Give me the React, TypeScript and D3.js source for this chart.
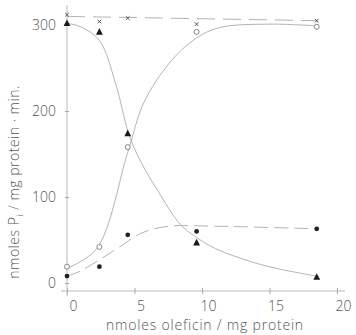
import React, { useEffect, useRef } from 'react';
import * as d3 from 'd3';

const W = 356;
const H = 335;

// measured points
const doses = [0, 2.4, 4.5, 9.6, 18.5];
const crossVals = [312, 304, 308, 301, 305];
const triVals = [302, 292, 174, 47, 7];
const openVals = [19, 42, 158, 292, 298];
const filledVals = [8, 19, 56, 60, 63];

// hand-drawn fitted curves
const triFitX = [0, 1, 2.4, 3.6, 4.6, 5.5, 6.7, 8.4, 9.5, 11, 13.8, 15.8, 18.5];
const triFitV = [302, 298, 282, 232, 172, 140, 108, 68, 54, 40, 24, 16, 8];
const openFitX = [0, 2.2, 4.5, 5.7, 7.6, 9.5, 11.3, 15, 18.5];
const openFitV = [17, 40, 152, 210, 256, 284, 297, 301, 299];
const filledFitX = [0, 1, 4, 5.5, 7.5, 11, 18.5];
const filledFitV = [8, 14, 43, 58, 66, 66, 63];
const crossFitX = [0, 18.5];
const crossFitV = [310, 305];

const xTicks = [0, 5, 10, 15, 20];
const yTicks = [0, 100, 200, 300];

const ink = '#555';
const lineColor = '#aaa';
const font = '"Open Sans", "DejaVu Sans", sans-serif';

export default function App() {
  const ref = useRef<SVGSVGElement>(null);

  useEffect(() => {
    const svg = d3.select(ref.current);
    svg.selectAll('*').remove();

    const x = d3.scaleLinear().domain([0, 20]).range([67, 337]);
    const y = d3.scaleLinear().domain([0, 300]).range([283, 25]);

    // axes
    const axis = svg.append('g');
    let xAxis = d3.axisBottom(x).tickValues(xTicks).tickSize(4).tickPadding(6);
    let gx = axis.append('g').attr('transform', `translate(0 291)`).call(xAxis);
    gx.select('.domain').attr('d', `M${x(0) - 6},0H${x(20) + 8}`).attr('stroke', '#bbb');
    gx.selectAll('.tick line').attr('stroke', '#aaa').attr('y1', -3).attr('y2', 3);
    gx.selectAll('text')
      .attr('font-size', 14).attr('font-family', font).attr('fill', ink)
      .attr('dx', 6).attr('font-weight', 300);

    let yAxis = d3.axisLeft(y).tickValues(yTicks).tickSize(3).tickPadding(8);
    let gy = axis.append('g').attr('transform', `translate(${x(0)} 0)`).call(yAxis);
    gy.select('.domain').attr('d', `M0,5V${296}`).attr('stroke', '#bbb');
    gy.selectAll('.tick line').attr('stroke', '#aaa').attr('x1', -2).attr('x2', 2);
    gy.selectAll('text')
      .attr('font-size', 14).attr('font-family', font).attr('fill', ink).attr('font-weight', 300);

    // titles
    svg.append('text')
      .attr('x', 205).attr('y', 330)
      .attr('text-anchor', 'middle')
      .attr('font-size', 14).attr('font-family', font).attr('fill', ink).attr('font-weight', 300)
      .attr('letter-spacing', 0.8)
      .text('nmoles oleficin / mg protein');

    let yt = svg.append('text')
      .attr('transform', 'translate(19 182) rotate(-90)')
      .attr('text-anchor', 'middle')
      .attr('font-size', 14).attr('font-family', font).attr('fill', ink).attr('font-weight', 300)
      .attr('letter-spacing', 0.5);
    yt.append('tspan').text('nmoles P');
    yt.append('tspan').attr('font-size', 9).attr('dy', 4).text('i');
    yt.append('tspan').attr('dy', -4).text(' / mg protein · min.');

    // fitted curves
    const line = d3.line<[number, number]>()
      .x(d => x(d[0]))
      .y(d => y(d[1]))
      .curve(d3.curveCatmullRom.alpha(0.5));
    const curves = [
      { xs: triFitX, vs: triFitV, dash: null },
      { xs: openFitX, vs: openFitV, dash: null },
      { xs: filledFitX, vs: filledFitV, dash: '14 6' },
      { xs: crossFitX, vs: crossFitV, dash: '18 8' },
    ];
    curves.forEach(c => {
      svg.append('path')
        .attr('d', line(c.xs.map((v, i) => [v, c.vs[i]] as [number, number])))
        .attr('fill', 'none')
        .attr('stroke', lineColor)
        .attr('stroke-width', 0.9)
        .attr('stroke-dasharray', c.dash);
    });

    // markers
    const pts = svg.append('g');
    pts.selectAll('.cross').data(doses).enter()
      .append('path')
      .attr('d', (d, i) => {
        let cx = x(d), cy = y(crossVals[i]);
        return `M${cx - 1.8},${cy - 1.8}L${cx + 1.8},${cy + 1.8}M${cx - 1.8},${cy + 1.8}L${cx + 1.8},${cy - 1.8}`;
      })
      .attr('stroke', '#555').attr('stroke-width', 1);

    pts.selectAll('.tri').data(doses).enter()
      .append('path')
      .attr('d', (d, i) => {
        let cx = x(d), cy = y(triVals[i]);
        return `M${cx},${cy - 3.8}L${cx + 3.4},${cy + 2.8}L${cx - 3.4},${cy + 2.8}Z`;
      })
      .attr('fill', '#1a1a1a');

    pts.selectAll('.open').data(doses).enter()
      .append('circle')
      .attr('cx', d => x(d))
      .attr('cy', (d, i) => y(openVals[i]))
      .attr('r', 2.5)
      .attr('fill', '#fff')
      .attr('stroke', '#777')
      .attr('stroke-width', 0.9);

    pts.selectAll('.filled').data(doses).enter()
      .append('circle')
      .attr('cx', d => x(d))
      .attr('cy', (d, i) => y(filledVals[i]))
      .attr('r', 2.4)
      .attr('fill', '#222');
  }, []);

  return (
    <div style={{ position: 'absolute', left: 0, top: 0, background: '#fff' }}>
      <svg ref={ref} width={W} height={H} />
    </div>
  );
}
